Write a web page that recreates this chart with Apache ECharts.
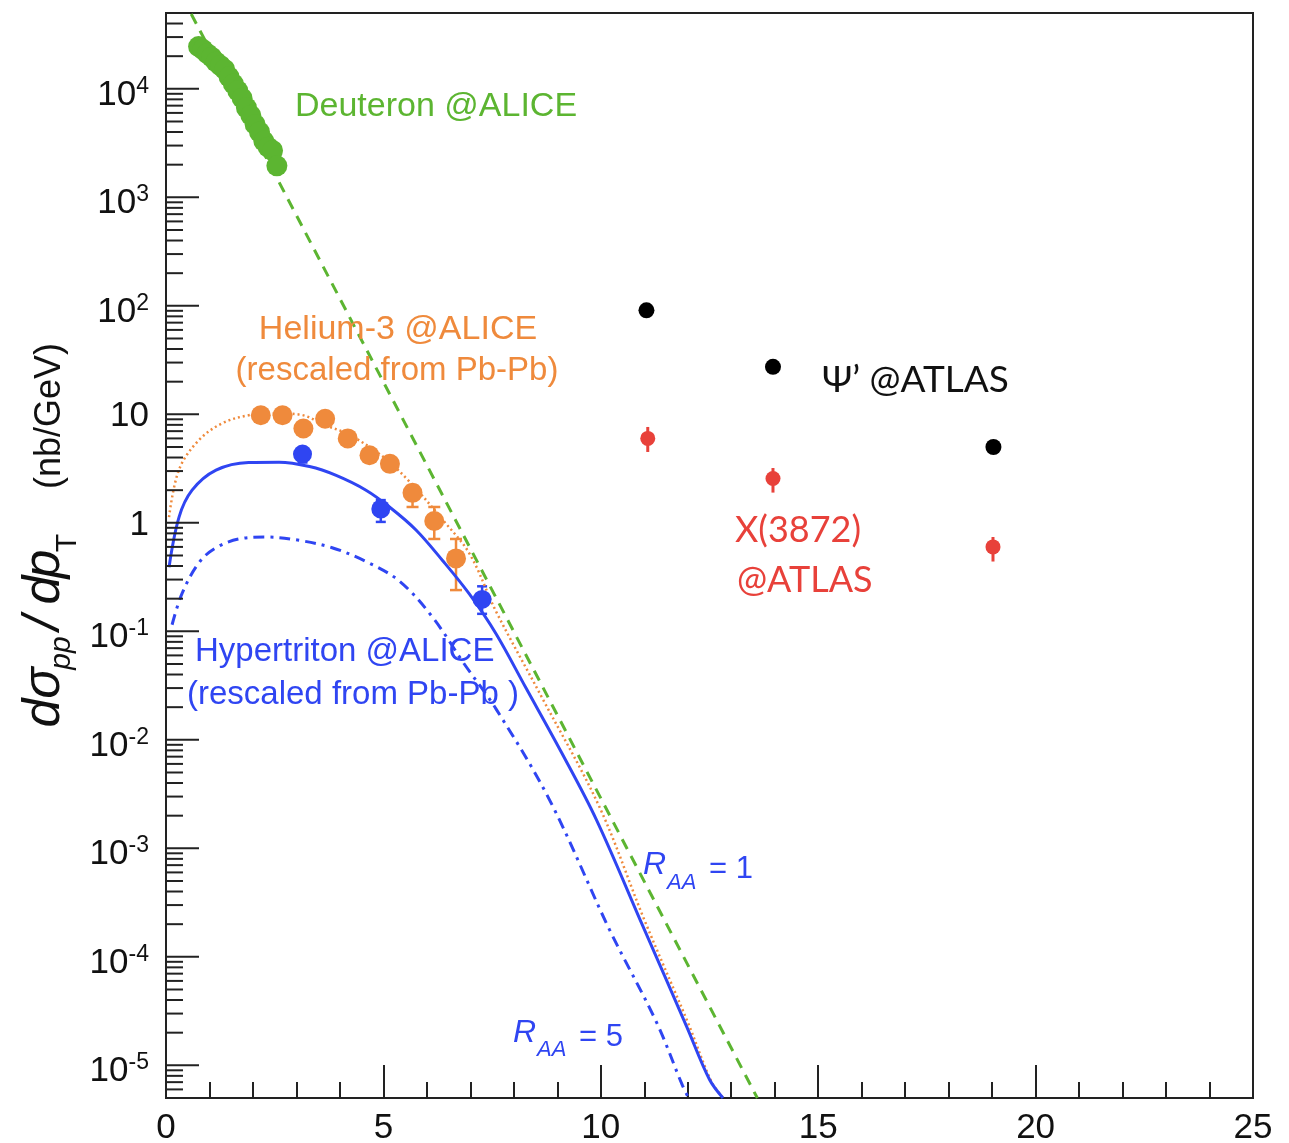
<!DOCTYPE html>
<html>
<head>
<meta charset="utf-8">
<script src="https://cdn.jsdelivr.net/npm/echarts@6/dist/echarts.min.js"></script>
<style>
html,body{margin:0;padding:0;background:#fff;}
#chart{width:1289px;height:1143px;}
</style>
</head>
<body>
<div id="chart"></div>
<script>
// ---------------- data ----------------
// Deuteron @ALICE (pp) points
const deuteronPt  = [0.75,0.85,0.95,1.05,1.15,1.25,1.35,1.45,1.55,1.65,1.75,1.85,1.95,2.05,2.15,2.25,2.35,2.45,2.55];
const deuteronVal = [24500,23000,21100,19600,17700,16400,15100,12900,11100,9600,8200,6700,5700,4700,4000,3300,2900,2700,1950];
// Deuteron dashed exponential line (end points at frame edges)
const deuteronLinePt  = [0.58, 13.6];
const deuteronLineVal = [4.9e4, 5.0e-6];

// Helium-3 @ALICE points with error bars
const he3Pt  = [2.18,2.68,3.16,3.66,4.18,4.68,5.15,5.67,6.17,6.67];
const he3Val = [9.8,9.8,7.4,9.1,6.0,4.2,3.5,1.89,1.04,0.47];
const he3Lo  = [9.4,9.4,7.1,8.7,5.7,4.0,3.3,1.40,0.71,0.24];
const he3Hi  = [10.2,10.2,7.7,9.5,6.3,4.4,3.7,2.2,1.40,0.71];
// Helium-3 dotted curve
const he3CurvePt  = [0.07,0.3,0.76,1.3,1.9,2.5,3.1,3.68,4.21,4.98,5.6,6.36,6.98,7.6,8.66,9.97,11.0,12.0,12.55,12.82];
const he3CurveVal = [1.13,3.1,5.8,8.3,9.8,10.2,9.9,7.9,6.5,4.1,2.4,1.07,0.52,0.15,0.024,0.0024,2.2e-4,2.5e-5,7.0e-6,5.0e-6];

// Hypertriton @ALICE points with error bars
const hyperPt  = [3.14,4.94,7.27];
const hyperVal = [4.3,1.34,0.197];
const hyperLo  = [3.6,1.02,0.145];
const hyperHi  = [4.9,1.62,0.26];
// R_AA = 1 solid curve
const raa1Pt  = [0.07,0.3,0.6,1.15,1.9,2.6,3.3,3.9,4.6,5.14,5.75,6.36,6.98,7.59,8.28,9.1,9.9,10.96,11.97,12.5,12.81];
const raa1Val = [0.39,1.13,2.0,3.06,3.6,3.62,3.3,2.75,2.0,1.4,0.86,0.45,0.22,0.095,0.03,0.0076,0.00183,1.95e-4,2.3e-5,7.4e-6,5.0e-6];
// R_AA = 5 dash-dot curve
const raa5Pt  = [0.14,0.37,0.76,1.15,1.75,2.3,3.06,3.82,4.6,5.37,6.13,6.86,7.6,8.82,10.2,11.28,11.88,12.02];
const raa5Val = [0.115,0.224,0.43,0.59,0.72,0.74,0.69,0.59,0.44,0.29,0.135,0.05,0.019,0.0028,1.78e-4,2.5e-5,6.5e-6,5.0e-6];

// psi(2S) @ATLAS
const psiPt  = [11.05,13.96,19.03];
const psiVal = [91,27.4,5.0];
// X(3872) @ATLAS
const xPt  = [11.08,13.96,19.02];
const xVal = [6.0,2.56,0.60];
const xLo  = [4.5,1.9,0.44];
const xHi  = [7.65,3.2,0.74];

// axis ticks and labels
const yMin = 5e-6, yMax = 5e4;
const yMajorTicks  = [1e-5,1e-4,1e-3,1e-2,1e-1,1,10,100,1e3,1e4];
const yTickLabels  = ['10|-5','10|-4','10|-3','10|-2','10|-1','1','10','10|2','10|3','10|4'];
const yMinorTicks = [];
for (let e = -6; e <= 4; e++) {
  for (let m = 2; m <= 9; m++) {
    const v = m * Math.pow(10, e);
    if (v > yMin && v < yMax) yMinorTicks.push(v);
  }
}
const xTickLabels = ['0','5','10','15','20','25'];

// ---------------- helpers ----------------
const zip = (a, b) => a.map((v, i) => [v, b[i]]);
const zip3 = (a, b, c) => a.map((v, i) => [v, b[i], c[i]]);

const GREEN = '#5cb531';
const ORANGE = '#ef8a3c';
const BLUE = '#2f45f2';
const RED = '#e8413a';
const SANS = '"Liberation Sans", Arial, Helvetica, sans-serif';
const CAL = 'Lato, "Open Sans", sans-serif';

function errorBarSeries(data, color, cap, width) {
  return {
    type: 'custom',
    silent: true,
    z: 3,
    data: data,
    encode: { x: 0, y: [1, 2] },
    renderItem: function (params, api) {
      const x = api.value(0);
      const p1 = api.coord([x, api.value(1)]);
      const p2 = api.coord([x, api.value(2)]);
      const st = { stroke: color, lineWidth: width };
      const ch = [{ type: 'line', shape: { x1: p1[0], y1: p1[1], x2: p2[0], y2: p2[1] }, style: st }];
      if (cap > 0) {
        ch.push({ type: 'line', shape: { x1: p1[0] - cap, y1: p1[1], x2: p1[0] + cap, y2: p1[1] }, style: st });
        ch.push({ type: 'line', shape: { x1: p2[0] - cap, y1: p2[1], x2: p2[0] + cap, y2: p2[1] }, style: st });
      }
      return { type: 'group', children: ch };
    }
  };
}

function tickSeries(values, len, labels) {
  return {
    type: 'custom',
    silent: true,
    z: 10,
    clip: false,
    data: values.map(v => [0, v]),
    encode: { x: 0, y: 1 },
    renderItem: function (params, api) {
      const p = api.coord([0, api.value(1)]);
      const ch = [{ type: 'line', shape: { x1: p[0], y1: p[1], x2: p[0] + len, y2: p[1] },
                    style: { stroke: '#222', lineWidth: 2 } }];
      if (labels) {
        const parts = labels[params.dataIndex].split('|');
        const hasExp = parts.length > 1;
        const t = hasExp ? '{b|' + parts[0] + '}{s|' + parts[1] + '}' : '{b|' + parts[0] + '}';
        ch.push({
          type: 'text',
          style: {
            x: p[0] - 17, y: p[1] + (hasExp ? 5 : 1),
            text: t,
            align: 'right', verticalAlign: 'middle',
            textAlign: 'right', textVerticalAlign: 'middle',
            rich: {
              b: { fontSize: 35, fontFamily: SANS, fill: '#111', color: '#111', lineHeight: 38, verticalAlign: 'bottom' },
              s: { fontSize: 23, fontFamily: SANS, fill: '#111', color: '#111', lineHeight: 24, verticalAlign: 'top' }
            }
          }
        });
      }
      return { type: 'group', children: ch };
    }
  };
}

function txt(x, y, text, color, font, align, extra) {
  const o = {
    type: 'text', x: x, y: y, silent: true, z: 100,
    style: { text: text, fill: color, font: font,
             textAlign: align || 'left', textVerticalAlign: 'middle',
             align: align || 'left', verticalAlign: 'middle' }
  };
  if (extra) Object.assign(o, extra);
  return o;
}
const ROT = { rotation: Math.PI / 2 };

const chart = echarts.init(document.getElementById('chart'), null, { renderer: 'canvas' });

const option = {
  animation: false,
  backgroundColor: '#ffffff',
  grid: { left: 166, right: 36, top: 13, bottom: 45, show: true,
          containLabel: false, outerBoundsMode: 'none',
          borderColor: '#222', borderWidth: 2, backgroundColor: 'transparent' },
  xAxis: {
    type: 'value', min: 0, max: 25, interval: 5,
    axisLine: { show: true, lineStyle: { color: '#222', width: 2 } },
    axisTick: { show: true, inside: true, length: 33, lineStyle: { color: '#222', width: 2 } },
    minorTick: { show: true, splitNumber: 5, length: 16, lineStyle: { color: '#222', width: 2 } },
    splitLine: { show: false },
    axisLabel: { margin: 13, color: '#111', fontSize: 35, fontFamily: SANS,
                 formatter: function (v) { const i = xTickLabels.indexOf(String(v)); return i >= 0 ? xTickLabels[i] : ''; } }
  },
  yAxis: {
    type: 'log', logBase: 10, min: yMin, max: yMax,
    axisLine: { show: true, lineStyle: { color: '#222', width: 2 } },
    axisTick: { show: false },
    splitLine: { show: false },
    axisLabel: { show: false }
  },
  series: [
    tickSeries(yMajorTicks, 33, yTickLabels),
    tickSeries(yMinorTicks, 17, null),
    // deuteron dashed line
    { type: 'line', data: zip(deuteronLinePt, deuteronLineVal), symbol: 'none', z: 4,
      lineStyle: { color: GREEN, width: 3, type: [11, 8] } },
    // He-3 dotted curve
    { type: 'line', data: zip(he3CurvePt, he3CurveVal), symbol: 'none', smooth: 0.35, z: 4,
      lineStyle: { color: ORANGE, width: 2.5, type: [2, 3] } },
    // R_AA = 5 dash-dot
    { type: 'line', data: zip(raa5Pt, raa5Val), symbol: 'none', smooth: 0.35, z: 4,
      lineStyle: { color: BLUE, width: 3, type: [11, 6, 3, 6] } },
    // R_AA = 1 solid
    { type: 'line', data: zip(raa1Pt, raa1Val), symbol: 'none', smooth: 0.35, z: 5,
      lineStyle: { color: BLUE, width: 3 } },
    errorBarSeries(zip3(he3Pt, he3Lo, he3Hi), ORANGE, 6, 2.5),
    errorBarSeries(zip3(hyperPt, hyperLo, hyperHi), BLUE, 5, 2.5),
    errorBarSeries(zip3(xPt, xLo, xHi), RED, 0, 3),
    { type: 'scatter', data: zip(deuteronPt, deuteronVal), symbol: 'circle', symbolSize: 21, z: 6,
      itemStyle: { color: GREEN, opacity: 1 } },
    { type: 'scatter', data: zip(he3Pt, he3Val), symbol: 'circle', symbolSize: 20, z: 6,
      itemStyle: { color: ORANGE, opacity: 1 } },
    { type: 'scatter', data: zip(hyperPt, hyperVal), symbol: 'circle', symbolSize: 19, z: 6,
      itemStyle: { color: BLUE, opacity: 1 } },
    { type: 'scatter', data: zip(psiPt, psiVal), symbol: 'circle', symbolSize: 16, z: 6,
      itemStyle: { color: '#000', opacity: 1 } },
    { type: 'scatter', data: zip(xPt, xVal), symbol: 'circle', symbolSize: 15, z: 6,
      itemStyle: { color: RED, opacity: 1 } }
  ],
  graphic: {
    elements: [
      txt(295, 107, 'Deuteron @ALICE', GREEN, '34px ' + SANS, 'left'),
      txt(398, 330, 'Helium-3 @ALICE', ORANGE, '34px ' + SANS, 'center'),
      txt(397, 371, '(rescaled from Pb-Pb)', ORANGE, '33px ' + SANS, 'center'),
      txt(822, 380, 'Ψ’ @ATLAS', '#111', '37px ' + CAL, 'left'),
      txt(735, 530, 'X(3872)', RED, '36px ' + CAL, 'left'),
      txt(737, 580, '@ATLAS', RED, '36px ' + CAL, 'left'),
      txt(195, 652, 'Hypertriton @ALICE', BLUE, '33px ' + SANS, 'left'),
      txt(187, 695, '(rescaled from Pb-Pb )', BLUE, '33px ' + SANS, 'left'),
      // R_AA = 1
      txt(643, 865, 'R', BLUE, 'italic 32px ' + SANS, 'left'),
      txt(667, 883, 'AA', BLUE, 'italic 22px ' + SANS, 'left'),
      txt(709, 869, '= 1', BLUE, '31px ' + SANS, 'left'),
      // R_AA = 5
      txt(513, 1033, 'R', BLUE, 'italic 32px ' + SANS, 'left'),
      txt(537, 1050, 'AA', BLUE, 'italic 22px ' + SANS, 'left'),
      txt(579, 1037, '= 5', BLUE, '31px ' + SANS, 'left'),
      // y-axis title pieces (rotated, read bottom to top)
      txt(45, 713, 'd', '#111', 'italic 52px ' + SANS, 'center', ROT),
      txt(45, 683, 'σ', '#111', 'italic 52px ' + SANS, 'center', ROT),
      txt(62, 653, 'pp', '#111', 'italic 30px ' + SANS, 'center', ROT),
      txt(45, 623, '/', '#111', 'italic 52px ' + SANS, 'center', ROT),
      txt(45, 590, 'd', '#111', 'italic 52px ' + SANS, 'center', ROT),
      txt(45, 564, 'p', '#111', 'italic 52px ' + SANS, 'center', ROT),
      txt(68, 543, 'T', '#111', '30px ' + SANS, 'center', ROT),
      txt(50, 416, '(nb/GeV)', '#111', '36px ' + SANS, 'center', ROT)
    ]
  }
};
chart.setOption(option);
</script>
</body>
</html>
